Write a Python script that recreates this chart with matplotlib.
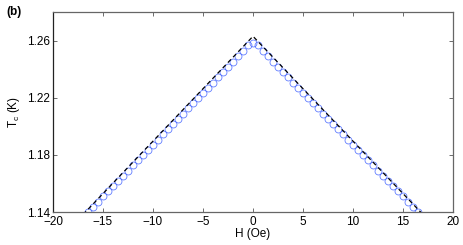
import matplotlib
matplotlib.use("Agg")
import matplotlib.pyplot as plt

plt.rcParams['font.family'] = ['Liberation Sans', 'DejaVu Sans']

# Measured data (blue circles)
H = [-16.5, -16.0, -15.5, -15.0, -14.5, -14.0, -13.5, -13.0, -12.5, -12.0, -11.5,
     -11.0, -10.5, -10.0, -9.5, -9.0, -8.5, -8.0, -7.5, -7.0, -6.5, -6.0, -5.5,
     -5.0, -4.5, -4.0, -3.5, -3.0, -2.5, -2.0, -1.5, -1.0, -0.5, 0.0,
     0.5, 1.0, 1.5, 2.0, 2.5, 3.0, 3.5, 4.0, 4.5, 5.0, 5.5, 6.0, 6.5, 7.0, 7.5,
     8.0, 8.5, 9.0, 9.5, 10.0, 10.5, 11.0, 11.5, 12.0, 12.5, 13.0, 13.5, 14.0,
     14.5, 15.0, 15.5, 16.0, 16.5]
Tc = [1.1398, 1.1436, 1.1472, 1.1509, 1.1545, 1.1581, 1.1617, 1.1654, 1.1690, 1.1726, 1.1762,
      1.1799, 1.1835, 1.1871, 1.1907, 1.1944, 1.1980, 1.2016, 1.2052, 1.2089, 1.2125, 1.2161, 1.2197,
      1.2234, 1.2270, 1.2306, 1.2342, 1.2379, 1.2415, 1.2451, 1.2489, 1.2530, 1.2570, 1.2585,
      1.2570, 1.2530, 1.2489, 1.2451, 1.2415, 1.2379, 1.2342, 1.2306, 1.2270, 1.2234, 1.2197, 1.2161, 1.2125, 1.2089, 1.2052,
      1.2016, 1.1980, 1.1944, 1.1907, 1.1871, 1.1835, 1.1799, 1.1762, 1.1726, 1.1690, 1.1654, 1.1617, 1.1581,
      1.1545, 1.1509, 1.1472, 1.1436, 1.1402]

# Theory (black dashed line)
H_fit = [-17.0, 0.0, 17.0]
Tc_fit = [1.1382, 1.2630, 1.1382]

xticks = [-20, -15, -10, -5, 0, 5, 10, 15, 20]
yticks = [1.14, 1.18, 1.22, 1.26]

fig = plt.figure(figsize=(4.64, 2.45), dpi=100)
ax = fig.add_axes([53/464, 33/245, 400/464, 200/245])

ax.plot(H, Tc, linestyle='none', marker='o', markersize=5.0, markerfacecolor='none',
        markeredgecolor='#3a5cff', markeredgewidth=0.6, alpha=0.8, zorder=2)
ax.plot(H_fit, Tc_fit, color='black', linestyle=(0, (3.5, 2.5)), linewidth=0.9, zorder=3)

ax.set_xlim(-20, 20)
ax.set_ylim(1.14, 1.28)
ax.set_xticks(xticks)
ax.set_xticklabels([str(t).replace('-', '\u2212') for t in xticks])
ax.set_yticks(yticks)
ax.set_yticklabels([f"{t:.2f}" for t in yticks])

ax.tick_params(direction='in', top=True, right=True, length=3, width=0.6,
               labelsize=8.5, colors='#555555', labelcolor='black', pad=2)
ax.tick_params(axis='x', pad=3)
for s in ax.spines.values():
    s.set_color('#666666')
    s.set_linewidth(0.9)
ax.spines['left'].set_color('#222222')

ax.set_xlabel('H (Oe)', fontsize=8.5, labelpad=0)
ax.set_ylabel('T$_\\mathregular{c}$ (K)', fontsize=8.5, labelpad=4)

fig.text(6/464, 1 - 12/245, '(b)', fontsize=8.5, fontweight='bold', va='center', ha='left')

fig.savefig('out.png', dpi=100)
